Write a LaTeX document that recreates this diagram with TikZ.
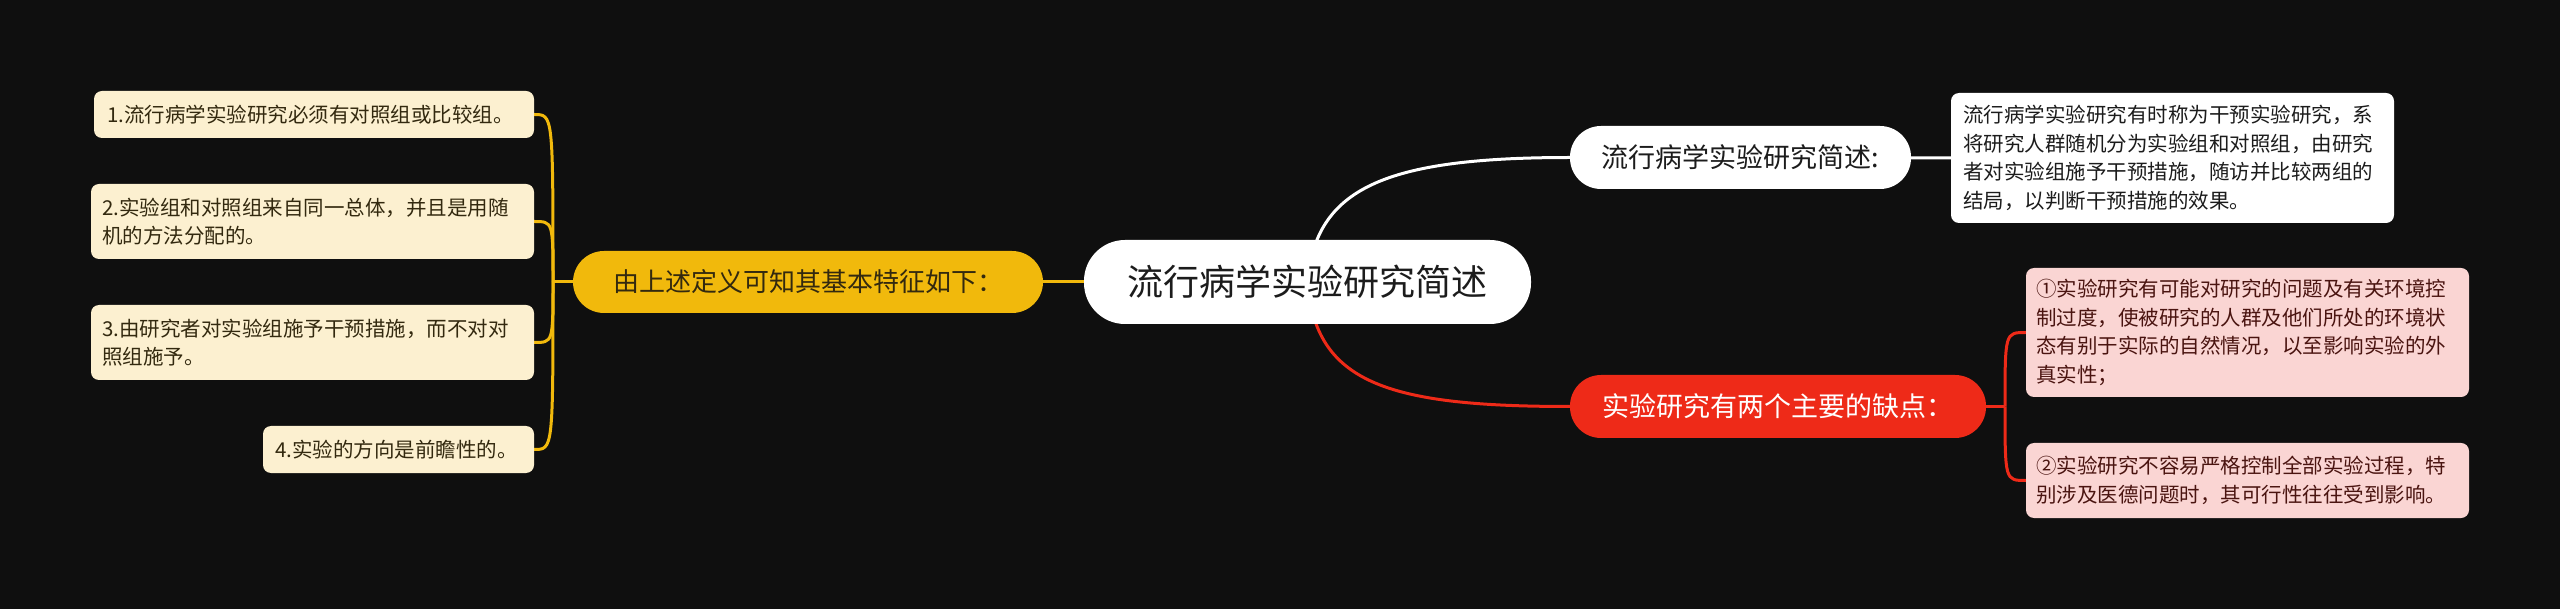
\documentclass[tikz,border=0pt]{standalone}
\usepackage{fontspec}
\setmainfont{Noto Sans CJK SC}
\usetikzlibrary{backgrounds}
\definecolor{bgc}{HTML}{0F0F0F}
\definecolor{ylw}{HTML}{F1B90C}
\definecolor{cream}{HTML}{FCF0D0}
\definecolor{creamtxt}{HTML}{33290F}
\definecolor{redn}{HTML}{EE2A18}
\definecolor{pink}{HTML}{FAD5D3}
\definecolor{pinktxt}{HTML}{4A1410}
\definecolor{darktxt}{HTML}{1C1C1C}
\begin{document}
\begin{tikzpicture}[x=1pt,y=-1pt,
  leaf/.style={rounded corners=8pt, align=left, inner sep=0pt, anchor=center,
    font=\fontsize{20.5}{28.5}\selectfont},
  creambox/.style={leaf, fill=cream, text=creamtxt},
  pinkbox/.style={leaf, fill=pink, text=pinktxt},
  whitebox/.style={leaf, fill=white, text=darktxt},
  pill/.style={inner sep=0pt, anchor=center, align=center},
  conn/.style={line width=3pt}
]
% nodes
\node[creambox, minimum width=440pt, minimum height=47pt, text width=414pt] (L1) at (314,114.5)
  {1.流行病学实验研究必须有对照组或比较组。};
\node[creambox, minimum width=443pt, minimum height=75pt, text width=421pt] (L2) at (312.5,221.5)
  {2.实验组和对照组来自同一总体，并且是用随\\机的方法分配的。};
\node[creambox, minimum width=443pt, minimum height=75pt, text width=421pt] (L3) at (312.5,342.5)
  {3.由研究者对实验组施予干预措施，而不对对\\照组施予。};
\node[creambox, minimum width=271pt, minimum height=47pt, text width=247pt] (L4) at (398.5,449.5)
  {4.实验的方向是前瞻性的。};

\node[pill, fill=ylw, text=creamtxt, rounded corners=31pt, minimum width=470pt, minimum height=62pt,
  font=\fontsize{26}{30}\selectfont] (Y) at (808,282) {由上述定义可知其基本特征如下：};

\node[pill, fill=white, text=darktxt, rounded corners=41pt, minimum width=447pt, minimum height=84pt,
  font=\fontsize{36}{40}\selectfont] (C) at (1307.5,282) {流行病学实验研究简述};

\node[pill, fill=white, text=darktxt, rounded corners=31pt, minimum width=341pt, minimum height=63pt,
  font=\fontsize{27}{30}\selectfont] (W) at (1740.5,157.5) {流行病学实验研究简述:};

\node[whitebox, minimum width=443pt, minimum height=130pt, text width=419pt] (D) at (2172.5,158)
  {流行病学实验研究有时称为干预实验研究，系\\将研究人群随机分为实验组和对照组，由研究\\者对实验组施予干预措施，随访并比较两组的\\结局，以判断干预措施的效果。};

\node[pill, fill=redn, text=white, rounded corners=31pt, minimum width=416pt, minimum height=63pt,
  font=\fontsize{27}{30}\selectfont] (R) at (1778,406.5) {实验研究有两个主要的缺点：};

\node[pinkbox, minimum width=443pt, minimum height=129pt, text width=423pt] (P1) at (2247.5,332.5)
  {①实验研究有可能对研究的问题及有关环境控\\制过度，使被研究的人群及他们所处的环境状\\态有别于实际的自然情况，以至影响实验的外\\真实性；};
\node[pinkbox, minimum width=443pt, minimum height=75pt, text width=423pt] (P2) at (2247.5,480.5)
  {②实验研究不容易严格控制全部实验过程，特\\别涉及医德问题时，其可行性往往受到影响。};

\coordinate (J1) at (553,282);
\coordinate (J2) at (2005,406.5);

\begin{scope}[on background layer]
  \fill[bgc] (0,0) rectangle (2560,609);
  \useasboundingbox (0,0) rectangle (2560,609);
  % left branch
  \draw[conn, ylw] (Y.center) -- (C.center);
  \draw[conn, ylw] (Y.center) -- (J1);
  \foreach \n in {L1,L2,L3,L4}{
    \draw[conn, ylw] (J1) .. controls (J1 |- \n.east) and (J1 |- \n.east) .. (\n.east);
  }
  % upper right branch
  \draw[conn, white] (C.center) .. controls +(8,-94) and +(-185,0) .. (W.west);
  \draw[conn, white] (W.center) -- (D.west);
  % lower right branch
  \draw[conn, redn] (C.center) .. controls +(8,100) and +(-185,0) .. (R.west);
  \draw[conn, redn] (R.center) -- (J2);
  \foreach \n in {P1,P2}{
    \draw[conn, redn] (J2) .. controls (J2 |- \n.west) and (J2 |- \n.west) .. (\n.west);
  }
\end{scope}
\end{tikzpicture}
\end{document}
